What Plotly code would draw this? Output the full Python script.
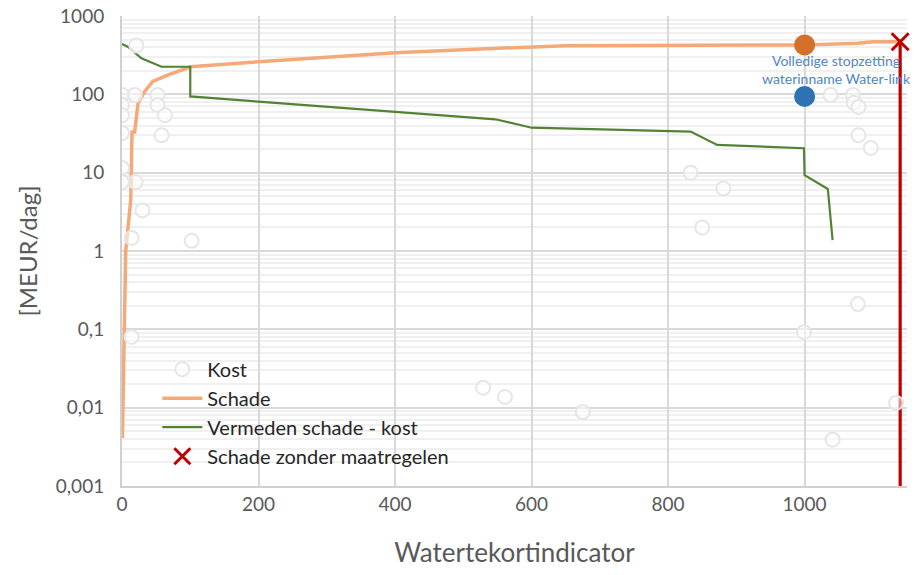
import plotly.graph_objects as go

# ---- data ----
schade_x = [0.6, 4, 5.4, 12.8, 14.7, 18.6, 23.5, 33, 45, 66, 100, 200, 400, 525, 600, 650, 1000, 1078, 1101, 1140]
schade_y = [0.0041, 0.1, 1.0, 4.5, 33, 33, 77, 108, 146, 175, 225, 261, 340, 379, 405, 418, 427, 448, 470, 470]

vermeden_x = [0, 8.4, 28.5, 57.8, 100, 100, 200, 400, 547, 600, 833, 872, 999, 1000, 1034, 1041]
vermeden_y = [440, 405, 288, 225, 225, 94, 80.6, 60, 48, 37.5, 33.4, 22.6, 20.5, 9.3, 6.2, 1.38]

kost_x = [21, 0, 19, 52, 0, 52, 0, 63, 0, 58, 0, 0, 20, 30, 14, 102, 14,
          529, 561, 675, 833, 881, 850, 1038, 1071, 1072, 1079, 1079, 1097, 1078, 999, 1134, 1041]
kost_y = [420, 98, 98, 98, 73, 73, 54, 54, 32, 30, 11.5, 7.6, 7.6, 3.3, 1.47, 1.35, 0.08,
          0.018, 0.0137, 0.0088, 10, 6.3, 2.0, 98, 98, 78, 69, 30, 20.7, 0.21, 0.092, 0.0115, 0.0039]

zonder_x = [1140]
zonder_y = [470]
zonder_line_y = [0.001, 470]

stop_x = [1000]
stop_schade_y = [427]
stop_kost_y = [94]
stop_label = "Volledige stopzetting<br>waterinname Water-link"
stop_label_x = [1046]
stop_label_y = [195]

y_tickvals = [0.001, 0.01, 0.1, 1, 10, 100, 1000]
y_ticktext = ["0,001", "0,01", "0,1", "1", "10", "100", "1000"]
x_tickvals = [0, 200, 400, 600, 800, 1000]

minor_vals = [m * 10 ** e for e in range(-3, 3) for m in range(2, 10)]

FONT = "Lato"
GREY = "#595959"

fig = go.Figure()

fig.add_trace(go.Scatter(x=schade_x, y=schade_y, mode="lines", name="Schade",
                         line=dict(color="#F4AA78", width=3.5), legendrank=2, legendgroup="b"))
fig.add_trace(go.Scatter(x=vermeden_x, y=vermeden_y, mode="lines", name="Vermeden schade - kost",
                         line=dict(color="#548235", width=2.2), legendrank=3, legendgroup="c"))
fig.add_trace(go.Scatter(x=zonder_x * 2, y=zonder_line_y, mode="lines", showlegend=False,
                         line=dict(color="#C00000", width=3.2), hoverinfo="skip"))
fig.add_trace(go.Scatter(x=stop_label_x, y=stop_label_y, mode="text", text=[stop_label],
                         textposition="middle center", showlegend=False, cliponaxis=False,
                         textfont=dict(family=FONT, size=14, color="#4F86C6")))
fig.add_trace(go.Scatter(x=kost_x, y=kost_y, mode="markers", name="Kost",
                         marker=dict(symbol="circle", size=14, color="rgba(255,255,255,0.55)",
                                     line=dict(color="#E6E6E6", width=2)), legendrank=1, legendgroup="a"))
fig.add_trace(go.Scatter(x=stop_x, y=stop_schade_y, mode="markers", showlegend=False,
                         marker=dict(size=21, color="#D4702B")))
fig.add_trace(go.Scatter(x=stop_x, y=stop_kost_y, mode="markers", showlegend=False,
                         marker=dict(size=21, color="#2E72B4")))
fig.add_trace(go.Scatter(x=zonder_x, y=zonder_y, mode="markers", name="Schade zonder maatregelen",
                         marker=dict(symbol="x-thin", size=17, line=dict(color="#C00000", width=3)),
                         legendrank=4, legendgroup="d", cliponaxis=False))

fig.update_layout(
    width=921, height=575, autosize=False,
    margin=dict(l=122, r=14, t=16, b=89),
    paper_bgcolor="white", plot_bgcolor="white",
    font=dict(family=FONT, color=GREY),
    showlegend=True,
    legend=dict(x=0.045, y=0.29, xanchor="left", yanchor="top", traceorder="grouped",
                bgcolor="rgba(0,0,0,0)", font=dict(family=FONT, size=20, color="#262626"),
                tracegroupgap=0, itemwidth=40),
    xaxis=dict(range=[0, 1150], tickvals=x_tickvals, showgrid=True, gridcolor="#D9D9D9", gridwidth=2,
               zeroline=False, showline=True, linecolor="#D0D0D0", linewidth=2, automargin=False,
               tickfont=dict(family=FONT, size=19, color=GREY), ticks="",
               title=dict(text="Watertekortindicator", font=dict(family=FONT, size=26, color=GREY), standoff=30)),
    yaxis=dict(type="log", range=[-3, 3], tickvals=y_tickvals, ticktext=y_ticktext,
               showgrid=True, gridcolor="#D9D9D9", gridwidth=2, automargin=False,
               minor=dict(tickvals=minor_vals, showgrid=True, gridcolor="#F0F0F0", gridwidth=2, ticks=""),
               zeroline=False, showline=True, linecolor="#D0D0D0", linewidth=2,
               ticks="outside", ticklen=12, tickcolor="rgba(0,0,0,0)",
               tickfont=dict(family=FONT, size=19, color=GREY),
               title=dict(text="[MEUR/dag]", font=dict(family=FONT, size=24, color=GREY), standoff=11)),
)

# remove the default 8px page margin so the figure fills the window exactly
fig.write_html("out.html", config={"displayModeBar": False},
               post_script="document.body.style.margin='0';")
